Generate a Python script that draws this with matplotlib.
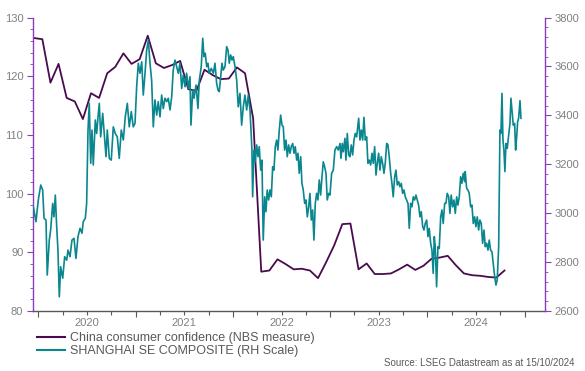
import numpy as np
import matplotlib.pyplot as plt
from matplotlib.ticker import FixedLocator, MultipleLocator, FuncFormatter, NullFormatter

plt.rcParams['font.family'] = ['Liberation Sans', 'DejaVu Sans']

# China consumer confidence (NBS), monthly Dec 2019 .. Oct 2024
cc_values = [
    126.5,                                                                          # Dec 2019
    126.3, 118.9, 122.1, 116.3, 115.7, 112.7, 117.1, 116.3, 120.5, 121.6, 123.9, 122.1,  # 2020
    122.9, 126.9, 122.2, 121.4, 121.9, 122.6, 117.8, 117.5, 121.1, 120.2, 119.5, 119.6,  # 2021
    121.5, 120.5, 112.8, 86.7, 86.9, 88.8, 88.0, 87.1, 87.2, 86.9, 85.6, 88.3,           # 2022
    91.2, 94.8, 94.9, 87.1, 88.1, 86.3, 86.3, 86.4, 87.1, 87.9, 87.0, 87.7,              # 2023
    88.9, 89.1, 89.4, 87.8, 86.4, 86.1, 86.0, 85.8, 85.7, 86.9,                          # 2024
]
cc_t = 2019 + (11.5 + np.arange(len(cc_values))) / 12  # mid-month, decimal years

# Shanghai SE Composite (decimal year, index level)
shcomp_t = [
    2019.949, 2019.976, 2020.000, 2020.025, 2020.045, 2020.059, 2020.079, 2020.092, 2020.113, 2020.127,
    2020.148, 2020.161, 2020.175, 2020.189, 2020.202, 2020.216, 2020.230, 2020.251, 2020.271, 2020.292,
    2020.305, 2020.326, 2020.346, 2020.367, 2020.387, 2020.408, 2020.429, 2020.449, 2020.462, 2020.483,
    2020.497, 2020.511, 2020.524, 2020.539, 2020.552, 2020.565, 2020.586, 2020.600, 2020.614, 2020.627,
    2020.641, 2020.662, 2020.675, 2020.696, 2020.709, 2020.730, 2020.750, 2020.771, 2020.791, 2020.812,
    2020.832, 2020.853, 2020.874, 2020.894, 2020.915, 2020.935, 2020.956, 2020.976, 2020.994,
    2021.011, 2021.028, 2021.045, 2021.063, 2021.079, 2021.097, 2021.114, 2021.131, 2021.148, 2021.165,
    2021.182, 2021.199, 2021.217, 2021.233, 2021.251, 2021.268, 2021.285, 2021.302, 2021.320, 2021.336,
    2021.354, 2021.371, 2021.387, 2021.405, 2021.422, 2021.439, 2021.456, 2021.474, 2021.490, 2021.508,
    2021.525, 2021.542, 2021.559, 2021.569, 2021.587, 2021.600, 2021.621, 2021.641, 2021.655, 2021.675,
    2021.690, 2021.703, 2021.716, 2021.731, 2021.744, 2021.757, 2021.778, 2021.799, 2021.816, 2021.833,
    2021.847, 2021.860, 2021.875, 2021.888, 2021.901, 2021.919, 2021.936, 2021.950, 2021.963, 2021.977,
    2021.991,
    2022.004, 2022.022, 2022.039, 2022.055, 2022.073, 2022.090, 2022.107, 2022.124, 2022.142, 2022.158,
    2022.176, 2022.186, 2022.196, 2022.203, 2022.217, 2022.230, 2022.245, 2022.258, 2022.271, 2022.286,
    2022.299, 2022.312, 2022.327, 2022.340, 2022.353, 2022.368, 2022.381, 2022.395, 2022.409, 2022.422,
    2022.436, 2022.450, 2022.463, 2022.477, 2022.491, 2022.505, 2022.518, 2022.532, 2022.546, 2022.559,
    2022.573, 2022.587, 2022.600, 2022.615, 2022.628, 2022.641, 2022.656, 2022.669, 2022.682, 2022.697,
    2022.710, 2022.723, 2022.738, 2022.751, 2022.765, 2022.779, 2022.792, 2022.806, 2022.820, 2022.833,
    2022.847, 2022.861, 2022.874, 2022.888, 2022.902, 2022.916, 2022.929, 2022.943, 2022.957, 2022.970,
    2022.984, 2022.998,
    2023.015, 2023.032, 2023.049, 2023.067, 2023.083, 2023.101, 2023.111, 2023.124, 2023.135, 2023.152,
    2023.162, 2023.176, 2023.190, 2023.203, 2023.217, 2023.231, 2023.245, 2023.258, 2023.272, 2023.293,
    2023.306, 2023.320, 2023.334, 2023.347, 2023.361, 2023.375, 2023.388, 2023.402, 2023.416, 2023.430,
    2023.443, 2023.457, 2023.471, 2023.484, 2023.498, 2023.512, 2023.525, 2023.539, 2023.553, 2023.566,
    2023.581, 2023.594, 2023.607, 2023.622, 2023.635, 2023.648, 2023.663, 2023.676, 2023.690, 2023.704,
    2023.717, 2023.731, 2023.745, 2023.758, 2023.772, 2023.786, 2023.800, 2023.813, 2023.827, 2023.841,
    2023.854, 2023.868, 2023.882, 2023.895, 2023.909, 2023.923, 2023.936, 2023.951, 2023.964, 2023.977,
    2023.992,
    2024.005, 2024.018, 2024.033, 2024.046, 2024.059, 2024.070, 2024.080, 2024.094, 2024.108, 2024.121,
    2024.136, 2024.149, 2024.162, 2024.177, 2024.190, 2024.203, 2024.218, 2024.231, 2024.244, 2024.259,
    2024.272, 2024.286, 2024.300, 2024.313, 2024.327, 2024.341, 2024.354, 2024.368, 2024.382, 2024.388,
    2024.403, 2024.416, 2024.429, 2024.444, 2024.457, 2024.471, 2024.485, 2024.498, 2024.512, 2024.526,
    2024.539, 2024.553, 2024.567, 2024.581, 2024.594, 2024.608, 2024.622, 2024.635, 2024.649, 2024.663,
    2024.676, 2024.691, 2024.704, 2024.717, 2024.732, 2024.745, 2024.755, 2024.766, 2024.776, 2024.786,
    2024.796, 2024.807, 2024.820, 2024.835, 2024.848, 2024.858, 2024.868, 2024.882, 2024.896, 2024.906,
    2024.917, 2024.927, 2024.937, 2024.951, 2024.961,
]
shcomp_v = [
    3026, 2965, 3054, 3115, 3095, 2979, 2972, 2747, 2890, 2931,
    3040, 2985, 3074, 2945, 2849, 2658, 2781, 2734, 2822, 2808,
    2849, 2822, 2890, 2897, 2815, 2904, 2938, 2918, 2965, 2979,
    3040, 3340, 3449, 3204, 3340, 3197, 3381, 3326, 3394, 3449,
    3312, 3408, 3340, 3231, 3340, 3224, 3217, 3353, 3326, 3312,
    3224, 3340, 3299, 3394, 3449, 3353, 3415, 3353, 3367,
    3517, 3613, 3572, 3619, 3483, 3572, 3667, 3708, 3613, 3544,
    3353, 3463, 3401, 3456, 3394, 3483, 3428, 3470, 3456, 3470,
    3422, 3476, 3585, 3626, 3599, 3572, 3613, 3510, 3565, 3517,
    3572, 3510, 3558, 3360, 3503, 3470, 3524, 3428, 3544, 3599,
    3715, 3640, 3654, 3599, 3613, 3572, 3592, 3572, 3613, 3531,
    3503, 3497, 3558, 3613, 3585, 3599, 3681, 3667, 3613, 3647,
    3626,
    3640, 3599, 3544, 3435, 3490, 3360, 3435, 3483, 3422, 3483,
    3422, 3340, 3258, 3067, 3258, 3210, 3279, 3231, 3272, 3176,
    3217, 2890, 3067, 3006, 3095, 3054, 3095, 3067, 3190, 3176,
    3272, 3299, 3258, 3340, 3401, 3360, 3353, 3258, 3299, 3231,
    3279, 3245, 3272, 3285, 3245, 3272, 3217, 3245, 3163, 3231,
    3122, 3095, 3040, 3054, 2985, 3026, 3081, 2972, 3013, 2890,
    3040, 3081, 3054, 3136, 3074, 3149, 3210, 3190, 3163, 3054,
    3081, 3074,
    3163, 3176, 3258, 3272, 3258, 3285, 3224, 3285, 3251, 3306,
    3217, 3326, 3238, 3231, 3279, 3238, 3299, 3326, 3312, 3388,
    3299, 3340, 3299, 3392, 3299, 3312, 3204, 3217, 3197, 3245,
    3204, 3272, 3156, 3204, 3245, 3176, 3231, 3204, 3163, 3204,
    3285, 3279, 3231, 3163, 3122, 3067, 3149, 3176, 3115, 3129,
    3108, 3122, 3081, 3095, 3067, 3054, 3040, 2938, 3040, 3026,
    3067, 3054, 3074, 3054, 3033, 2985, 3006, 2945, 2931, 2958,
    2972,
    2904, 2938, 2877, 2849, 2754, 2904, 2863, 2699, 2863, 2856,
    2985, 3013, 2958, 3040, 3040, 3081, 3067, 2999, 3074, 3026,
    3054, 2999, 3067, 3033, 3067, 3149, 3122, 3163, 3129, 3170,
    3101, 3095, 3081, 3026, 3033, 2958, 2985, 2945, 2985, 2931,
    2972, 2958, 2877, 2931, 2863, 2877, 2849, 2890, 2849, 2842,
    2795, 2740, 2706, 2727, 2863, 3340, 3326, 3490, 3299, 3258,
    3170, 3285, 3265, 3319, 3367, 3470, 3422, 3360, 3367, 3258,
    3312, 3374, 3388, 3460, 3388,
]

years = [2020, 2021, 2022, 2023, 2024, 2025]
quarters = [y + q for y in years[:-1] for q in (0.25, 0.5, 0.75)]

PURPLE = '#4a0b4e'
TEAL = '#0a868e'
SPINE = '#8a3dbb'
GREY = '#808080'
AXIS = '#595959'

fig = plt.figure(figsize=(5.85, 3.71), dpi=100)
ax = fig.add_axes([0.0564, 0.1617, 0.8752, 0.7911])
ax2 = ax.twinx()

l1, = ax.plot(cc_t, cc_values, color=PURPLE, lw=1.3)
l2, = ax2.plot(shcomp_t, shcomp_v, color=TEAL, lw=1.2)

# x axis: year ticks, quarter minor ticks, year labels centred mid-year
ax.set_xlim(2019.9455, 2025.208)
ax.xaxis.set_major_locator(FixedLocator(years))
ax.xaxis.set_major_formatter(NullFormatter())
ax.xaxis.set_minor_locator(FixedLocator(quarters))
ax.xaxis.set_minor_formatter(FuncFormatter(
    lambda v, pos: str(int(v)) if abs(v % 1 - 0.5) < 1e-6 else ''))
ax.tick_params(axis='x', which='both', direction='out', color=AXIS,
               labelcolor=GREY, labelsize=8, pad=2)
ax.tick_params(axis='x', which='major', length=4, width=0.8)
ax.tick_params(axis='x', which='minor', length=3, width=0.8)

# left axis
ax.set_ylim(80, 130)
ax.set_yticks(range(80, 131, 10))
ax.yaxis.set_minor_locator(MultipleLocator(2))
ax.tick_params(axis='y', which='both', direction='out', color=SPINE,
               labelcolor=GREY, labelsize=8, pad=3)
ax.tick_params(axis='y', which='major', length=4, width=0.8)
ax.tick_params(axis='y', which='minor', length=2, width=0.6)

# right axis
ax2.set_ylim(2600, 3800)
ax2.set_yticks(range(2600, 3801, 200))
ax2.yaxis.set_minor_locator(MultipleLocator(40))
ax2.tick_params(axis='y', which='both', direction='out', color=SPINE,
                labelcolor=GREY, labelsize=8, pad=3)
ax2.tick_params(axis='y', which='major', length=4, width=0.8)
ax2.tick_params(axis='y', which='minor', length=2, width=0.6)

for a in (ax, ax2):
    a.spines['top'].set_visible(False)
ax.spines['right'].set_visible(False)
ax2.spines['left'].set_visible(False)
ax2.spines['bottom'].set_visible(False)
ax.spines['left'].set_color(SPINE)
ax2.spines['right'].set_color(SPINE)
ax.spines['bottom'].set_color(AXIS)
for s in ('left', 'bottom'):
    ax.spines[s].set_linewidth(1.0)
ax2.spines['right'].set_linewidth(1.0)

leg = fig.legend([l1, l2],
                 ['China consumer confidence (NBS measure)', 'SHANGHAI SE COMPOSITE (RH Scale)'],
                 loc='upper left', bbox_to_anchor=(0.0627, 0.104), frameon=False,
                 fontsize=9, handlelength=2.26, handletextpad=0.4, labelspacing=0.05,
                 borderpad=0, borderaxespad=0)
for t in leg.get_texts():
    t.set_color('#595959')
for h in leg.legend_handles:
    h.set_linewidth(1.5)

fig.text(575 / 585, 1 - 362.7 / 371, 'Source: LSEG Datastream as at 15/10/2024',
         ha='right', va='center', fontsize=7, color='#595959')

fig.savefig('out.png', dpi=100)
